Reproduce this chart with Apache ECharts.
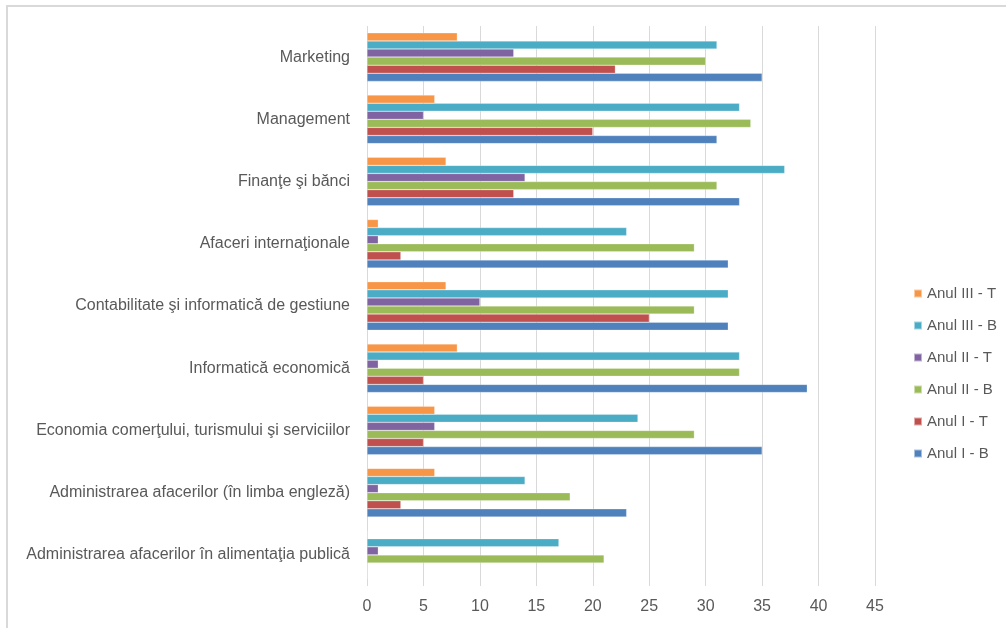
<!DOCTYPE html>
<html>
<head>
<meta charset="utf-8">
<script src="https://cdn.jsdelivr.net/npm/echarts@6/dist/echarts.min.js"></script>
<style>
  html, body { margin: 0; padding: 0; background: #fff; }
  #chart { width: 1006px; height: 628px; }
</style>
</head>
<body>
<div id="chart"></div>
<script>
// categories bottom -> top (ECharts category y axis starts at the bottom)
const categories = [
  'Administrarea afacerilor în alimentaţia publică',
  'Administrarea afacerilor (în limba engleză)',
  'Economia comerţului, turismului şi serviciilor',
  'Informatică economică',
  'Contabilitate şi informatică de gestiune',
  'Afaceri internaţionale',
  'Finanţe şi bănci',
  'Management',
  'Marketing'
]

const anul1B = [0, 23, 35, 39, 32, 32, 33, 31, 35]
const anul1T = [0, 3, 5, 5, 25, 3, 13, 20, 22]
const anul2B = [21, 18, 29, 33, 29, 29, 31, 34, 30]
const anul2T = [1, 1, 6, 1, 10, 1, 14, 5, 13]
const anul3B = [17, 14, 24, 33, 32, 23, 37, 33, 31]
const anul3T = [0, 6, 6, 8, 7, 1, 7, 6, 8]

// horizontal bars: first series is drawn at the top of each band
const seriesNames = ['Anul III - T', 'Anul III - B', 'Anul II - T', 'Anul II - B', 'Anul I - T', 'Anul I - B']
const seriesData = [anul3T, anul3B, anul2T, anul2B, anul1T, anul1B]
const colors = ['#f79646', '#4bacc6', '#8064a2', '#9bbb59', '#c0504d', '#4f81bd']

const xTicks = { min: 0, max: 45, interval: 5 }

const chart = echarts.init(document.getElementById('chart'))

const series = seriesNames.map((name, i) => ({
  name: name,
  type: 'bar',
  data: seriesData[i],
  barGap: '0%',
  barCategoryGap: '22%',
  itemStyle: { color: colors[i], borderColor: 'rgba(255,255,255,0.5)', borderWidth: 0.5 }
}))

const option = {
  animation: false,
  color: colors,
  textStyle: { fontFamily: 'Liberation Sans, Arial, sans-serif' },
  graphic: [{
    type: 'rect',
    shape: { x: 7, y: 6, width: 1200, height: 800 },
    style: { fill: 'none', stroke: '#d9d9d9', lineWidth: 2 },
    silent: true
  }],
  grid: { left: 367, right: 131, top: 26, bottom: 42, containLabel: false },
  legend: {
    orient: 'vertical',
    left: 908,
    top: 281,
    itemWidth: 8,
    itemHeight: 8,
    itemGap: 17,
    icon: 'rect',
    data: seriesNames,
    textStyle: { color: '#595959', fontSize: 15 }
  },
  xAxis: {
    type: 'value',
    min: xTicks.min,
    max: xTicks.max,
    interval: xTicks.interval,
    axisLine: { show: false },
    axisTick: { show: false },
    splitLine: { show: true, lineStyle: { color: '#d9d9d9', width: 1 } },
    axisLabel: { color: '#595959', fontSize: 16, margin: 13 }
  },
  yAxis: {
    type: 'category',
    data: categories,
    axisLine: { show: false },
    axisTick: { show: false },
    axisLabel: { color: '#595959', fontSize: 16, margin: 17 }
  },
  series: series
}

chart.setOption(option)
</script>
</body>
</html>
